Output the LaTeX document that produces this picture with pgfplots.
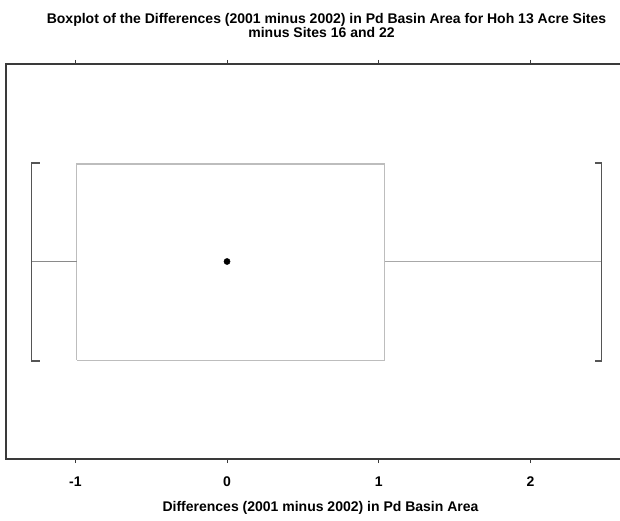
\documentclass[border=0pt]{standalone}
\usepackage{pgfplots}
\pgfplotsset{compat=1.18}
\usepackage{fontspec}
\setmainfont{Liberation Sans}
\definecolor{boxc}{HTML}{BDBDBD}
\definecolor{whiskl}{HTML}{8A8A8A}
\definecolor{whiskr}{HTML}{A8A8A8}
\definecolor{capc}{HTML}{555555}
\definecolor{framec}{HTML}{3A3A3A}
\newcommand\lbl{\bfseries\fontsize{14}{15}\selectfont}
\begin{document}
\begin{tikzpicture}[x=1pt,y=1pt]
\useasboundingbox (0,0) rectangle (620,520);
\node[font=\lbl, anchor=base, inner sep=0pt] at (326.5,496.7)
  {Boxplot of the Differences (2001 minus 2002) in Pd Basin Area for Hoh 13 Acre Sites};
\node[font=\lbl, anchor=base, inner sep=0pt] at (321.5,482.3)
  {minus Sites 16 and 22};
\node[font=\lbl, anchor=base, inner sep=0pt] at (320.5,8.3)
  {Differences (2001 minus 2002) in Pd Basin Area};
\begin{axis}[
  at={(6pt,61pt)}, anchor=south west,
  scale only axis, width=620pt, height=395pt,
  xmin=-1.457, xmax=2.63, ymin=0, ymax=1,
  ytick=\empty,
  xtick={-1,0,1,2},
  xtick pos=both, xticklabel pos=lower,
  tick align=outside, major tick length=4pt,
  tick style={framec, line width=0.9pt},
  axis line style={framec, line width=1.1pt},
  /pgf/number format/assume math mode=true,
  xticklabel style={font=\lbl, yshift=-10pt},
  clip=false,
]
% box from lower to upper quartile
\addplot[boxc, line width=1.3pt, no marks] coordinates
  {(-0.99,0.25) (1.04,0.25) (1.04,0.747) (-0.99,0.747) (-0.99,0.25)};
% whiskers
\addplot[whiskl, line width=1.2pt, no marks] coordinates {(-1.29,0.5) (-0.99,0.5)};
\addplot[whiskr, line width=1.6pt, no marks] coordinates {(1.04,0.5) (2.47,0.5)};
% whisker caps
\addplot[capc, line width=1.3pt, no marks] coordinates
  {(-1.235,0.749) (-1.29,0.749) (-1.29,0.248) (-1.235,0.248)};
\addplot[capc, line width=1.3pt, no marks] coordinates
  {(2.425,0.749) (2.47,0.749) (2.47,0.248) (2.425,0.248)};
% median
\addplot[only marks, mark=*, mark size=3.1pt, black] coordinates {(0,0.5)};
\end{axis}
\end{tikzpicture}
\end{document}
